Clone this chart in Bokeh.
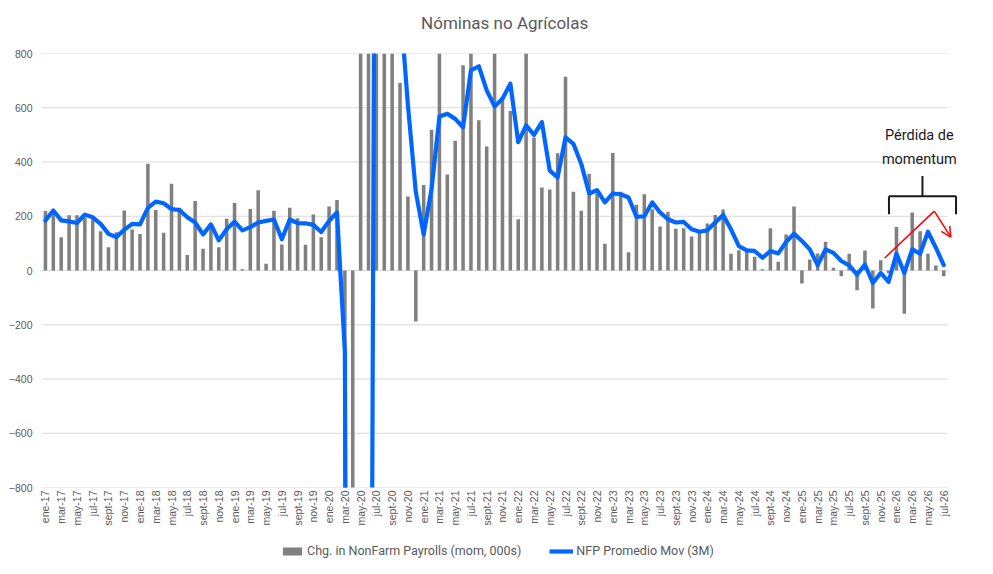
import numpy as np
from bokeh.plotting import figure
from bokeh.layouts import column
from bokeh.models import (Range1d, FixedTicker, Legend, LegendItem, Label, Arrow,
                          OpenHead)
from bokeh.embed import file_html
from bokeh.resources import INLINE

# ---------------- data ----------------
years = ["17", "18", "19", "20", "21", "22", "23", "24", "25", "26"]
months_es = ["ene", "feb", "mar", "abr", "may", "jun", "jul", "ago", "sept", "oct", "nov", "dic"]
month_labels = [f"{m}-{y}" for y in years for m in months_es][:115]

# Chg. in NonFarm Payrolls (mom, 000s), ene-17 .. jul-26
nfp_mom = [
    219, 213, 123, 204, 204, 195, 188, 145, 86, 141, 221, 151,        # 2017
    135, 394, 223, 139, 320, 231, 57, 256, 80, 170, 86, 191,          # 2018
    249, 5, 227, 296, 25, 220, 96, 231, 193, 95, 206, 123,            # 2019
    236, 260, -1400, -20500, 2800, 4800, 1700, 1600, 1000, 691, 273, -188,  # 2020
    315, 519, 900, 354, 478, 757, 1000, 554, 457, 850, 640, 588,      # 2021
    189, 900, 490, 306, 299, 432, 714, 290, 220, 356, 284, 99,        # 2022
    433, 290, 67, 242, 281, 226, 162, 217, 154, 156, 125, 146,        # 2023
    173, 205, 225, 62, 75, 80, 51, 5, 156, 32, 133, 236,              # 2024
    -48, 41, 63, 106, 10, -21, 62, -73, 74, -140, 38, -10,            # 2025
    160, -159, 214, 145, 62, 18, -21,                                 # 2026
]

# NFP Promedio Mov (3M)
nfp_3m = [
    185, 221, 185, 181, 175, 206, 196, 172, 135, 123, 150, 172,
    170, 231, 254, 248, 226, 223, 196, 177, 133, 170, 111, 152,
    180, 148, 160, 177, 183, 188, 115, 188, 175, 174, 168, 142,
    183, 214, -300, -7200, -6300, -4300, 3100, 2700, 1350, 990, 610, 290,
    133, 300, 568, 578, 559, 528, 738, 753, 664, 605, 633, 689,
    473, 535, 500, 547, 368, 343, 491, 467, 393, 284, 296, 251,
    284, 281, 269, 198, 200, 251, 214, 189, 177, 179, 152, 143,
    148, 177, 205, 152, 90, 74, 72, 47, 72, 63, 105, 136,
    109, 78, 20, 78, 65, 35, 19, -15, 22, -46, -9, -42,
    62, -9, 78, 62, 143, 84, 20,
]

y_ticks = [-800, -600, -400, -200, 0, 200, 400, 600, 800]

# annotation anchors (category index, value)
bracket_x = [107.05, 115.56]
bracket_y = 274
bracket_tick_y = 207
stem_x = 111.3
stem_top = 348
note_x = 110.9
note_lines = [("Pérdida de", 496), ("momentum", 410)]
red_start = (106.5, 46)
red_peak = (112.8, 219)
red_end = (114.9, 123)

# ---------------- layout constants ----------------
idx = list(range(len(month_labels)))
n = len(idx)
TXT = "#595959"
FONT = "Roboto"
BAR_COLOR = "#808080"
LINE_COLOR = "#0066ff"
x_lo, x_hi = -0.5, n - 0.5
x_view_hi = n + 1.0   # extra room on the right for the annotation
W = 985
TITLE_H = 40

# ---------------- title strip ----------------
tt = figure(width=W, height=TITLE_H, output_backend="svg", toolbar_location=None, title=None,
            x_axis_type=None, y_axis_type=None, x_range=Range1d(0, W), y_range=Range1d(0, TITLE_H),
            min_border=0, outline_line_color=None)
tt.grid.grid_line_color = None
tt.add_layout(Label(x=497, y=TITLE_H - 22, text="Nóminas no Agrícolas", text_align="center",
                    text_baseline="middle", text_font=FONT, text_font_size="17px", text_color=TXT))

# ---------------- main chart ----------------
p = figure(width=W, height=492, output_backend="svg", toolbar_location=None, title=None,
           x_range=Range1d(x_lo, x_view_hi), y_range=Range1d(y_ticks[0], y_ticks[-1]),
           min_border_left=41, min_border_right=26, min_border_top=53 - TITLE_H,
           min_border_bottom=45, outline_line_color=None)

# horizontal gridlines only across the category area
p.segment(x0=[x_lo] * len(y_ticks), x1=[x_hi] * len(y_ticks), y0=y_ticks, y1=y_ticks,
          line_color="#d9d9d9", line_width=1)

bars = p.vbar(x=idx, top=nfp_mom, width=0.45, fill_color=BAR_COLOR, line_color=None)
line = p.line(idx, nfp_3m, line_width=4.2, line_color=LINE_COLOR, line_join="round", line_cap="round")

# axes
p.yaxis.ticker = FixedTicker(ticks=y_ticks)
p.yaxis.axis_line_color = None
p.yaxis.major_tick_line_color = None
p.yaxis.minor_tick_line_color = None
p.yaxis.major_tick_out = 0
p.yaxis.minor_tick_out = 0
p.yaxis.major_label_text_font = "Liberation Sans"
p.yaxis.major_label_text_font_size = "10.5px"
p.yaxis.major_label_text_color = TXT
p.yaxis.major_label_standoff = 9

p.xaxis.ticker = FixedTicker(ticks=idx[::2])
p.xaxis.major_label_overrides = {i: month_labels[i] for i in idx[::2]}
p.xaxis.major_label_orientation = np.pi / 2
p.xaxis.axis_line_color = None
p.xaxis.major_tick_line_color = None
p.xaxis.minor_tick_line_color = None
p.xaxis.major_tick_out = 0
p.xaxis.minor_tick_out = 0
p.xaxis.major_label_text_font = "Liberation Sans"
p.xaxis.major_label_text_font_size = "10.5px"
p.xaxis.major_label_text_color = TXT
p.xaxis.major_label_standoff = 3

p.xgrid.grid_line_color = None
p.ygrid.grid_line_color = None

# annotations
blk = "#1a1a1a"
p.add_layout(Arrow(end=None, x_start=bracket_x[0], y_start=bracket_y, x_end=bracket_x[1], y_end=bracket_y,
                   line_color=blk, line_width=2))
for bx in bracket_x:
    p.add_layout(Arrow(end=None, x_start=bx, y_start=bracket_y, x_end=bx, y_end=bracket_tick_y,
                       line_color=blk, line_width=2))
p.add_layout(Arrow(end=None, x_start=stem_x, y_start=bracket_y, x_end=stem_x, y_end=stem_top,
                   line_color=blk, line_width=2))
for txt, ty in note_lines:
    p.add_layout(Label(x=note_x, y=ty, text=txt, text_align="center", text_baseline="middle",
                       text_font=FONT, text_font_size="14.5px", text_color=blk))
p.add_layout(Arrow(end=None, x_start=red_start[0], y_start=red_start[1], x_end=red_peak[0], y_end=red_peak[1],
                   line_color="red", line_width=1.5))
p.add_layout(Arrow(end=OpenHead(size=10, line_color="red", line_width=1.5),
                   x_start=red_peak[0], y_start=red_peak[1], x_end=red_end[0], y_end=red_end[1],
                   line_color="red", line_width=1.5))

# ---------------- legend strip ----------------
lg = figure(width=W, height=38, output_backend="svg", toolbar_location=None, title=None,
            x_axis_type=None, y_axis_type=None, x_range=Range1d(0, 1), y_range=Range1d(0, 1),
            min_border=0, outline_line_color=None)
lg.grid.grid_line_color = None
# legend keys only (no visible data in the strip)
k_bar = lg.vbar(x=[float("nan")], top=[float("nan")], width=0.45, fill_color=BAR_COLOR, line_color=None)
k_line = lg.line([float("nan")], [float("nan")], line_width=4.2, line_color=LINE_COLOR)
legend = Legend(items=[LegendItem(label="Chg. in NonFarm Payrolls (mom, 000s)", renderers=[k_bar]),
                       LegendItem(label="NFP Promedio Mov (3M)", renderers=[k_line])],
                orientation="horizontal", location=(239, 12),
                border_line_color=None, background_fill_alpha=0,
                label_text_font=FONT, label_text_font_size="12.5px", label_text_color=TXT,
                glyph_width=24, glyph_height=10, label_standoff=3, spacing=28,
                padding=2, margin=0)
lg.add_layout(legend)

layout = column(tt, p, lg, spacing=0)
open("out.html", "w").write(file_html(layout, INLINE))
